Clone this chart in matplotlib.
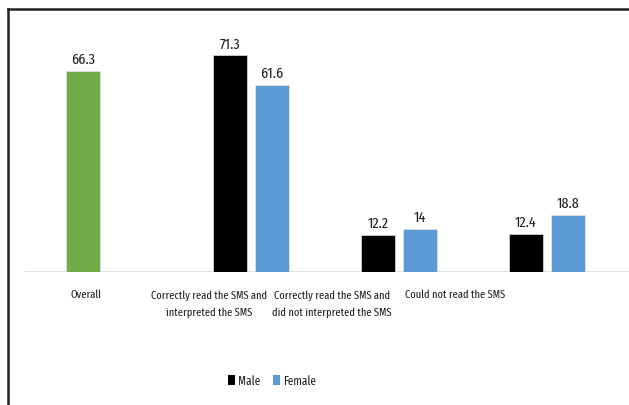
import matplotlib
matplotlib.use("Agg")
import matplotlib.pyplot as plt
from matplotlib.patches import Patch
from matplotlib.lines import Line2D

categories = ["Overall",
              "Correctly read the SMS and\ninterpreted the SMS",
              "Correctly read the SMS and\ndid not interpreted the SMS",
              "Could not read the SMS"]
overall_values = [66.3]
male_values = [71.3, 12.2, 12.4]
female_values = [61.6, 14, 18.8]
value_labels_overall = ["66.3"]
value_labels_male = ["71.3", "12.2", "12.4"]
value_labels_female = ["61.6", "14", "18.8"]

W, H = 629, 405
DPI = 100
plt.rcParams['font.family'] = ['Fira Sans Extra Condensed', 'DejaVu Sans']
fig = plt.figure(figsize=(W / DPI, H / DPI), dpi=DPI)

# axes in pixel-aligned coordinates
ax_left, ax_right = 25, 629
ax_bottom, ax_top = 271.5, 30
ax = fig.add_axes([ax_left / W, 1 - ax_bottom / H, (ax_right - ax_left) / W, (ax_bottom - ax_top) / H])
px_per_unit = 3.03
ax.set_xlim(ax_left, ax_right)
ax.set_ylim(0, (ax_bottom - ax_top) / px_per_unit)
ax.axis('off')

bar_w = 33.5
gap = 8.5
group_centers = [83, 251, 399, 547]
label_centers = [86, 209, 332, 455]

green = '#70AD47'
blue = '#5B9BD5'
black = '#000000'
fs_val = 11
fs_cat = 8.2
fs_leg = 8.8
text_color = '#222222'

# overall bar
ax.bar(group_centers[0], overall_values[0], width=bar_w, color=green, edgecolor='#e0e0e0', linewidth=0.6)
ax.text(group_centers[0], overall_values[0] + 1.2, value_labels_overall[0], ha='center', va='bottom',
        fontsize=fs_val, color=text_color)

for i, (m, f) in enumerate(zip(male_values, female_values)):
    c = group_centers[i + 1]
    xm = c - (bar_w + gap) / 2
    xf = c + (bar_w + gap) / 2
    ax.bar(xm, m, width=bar_w, color=black, edgecolor='#d0d0d0', linewidth=0.6)
    ax.bar(xf, f, width=bar_w, color=blue, edgecolor='#e0e0e0', linewidth=0.6)
    ax.text(xm, m + 1.2, value_labels_male[i], ha='center', va='bottom', fontsize=fs_val, color=text_color)
    ax.text(xf, f + 1.2, value_labels_female[i], ha='center', va='bottom', fontsize=fs_val, color=text_color)

# baseline
ax.axhline(0, color='#d9d9d9', linewidth=1.2, zorder=0)

# category labels
for lc, lab in zip(label_centers, categories):
    fig.text(lc / W, 1 - 290 / H, lab, ha='center', va='top', fontsize=fs_cat, linespacing=1.75,
             color=text_color)

# legend
handles = [Patch(facecolor=black), Patch(facecolor=blue)]
fig.legend(handles, ["Male", "Female"], loc='center', bbox_to_anchor=(272 / W, 1 - 381 / H),
           ncol=2, frameon=False, fontsize=fs_leg, handlelength=0.6, handleheight=0.9,
           handletextpad=0.25, columnspacing=1.0, labelcolor=text_color)

# outer frame (partially cropped)
fig.add_artist(Line2D([8 / W, 8 / W], [1 - 9 / H, 0], transform=fig.transFigure, color='#222222', linewidth=1.8))
fig.add_artist(Line2D([8 / W, 1], [1 - 9 / H, 1 - 9 / H], transform=fig.transFigure, color='#222222', linewidth=1.8))

fig.savefig("out.png", dpi=DPI)
